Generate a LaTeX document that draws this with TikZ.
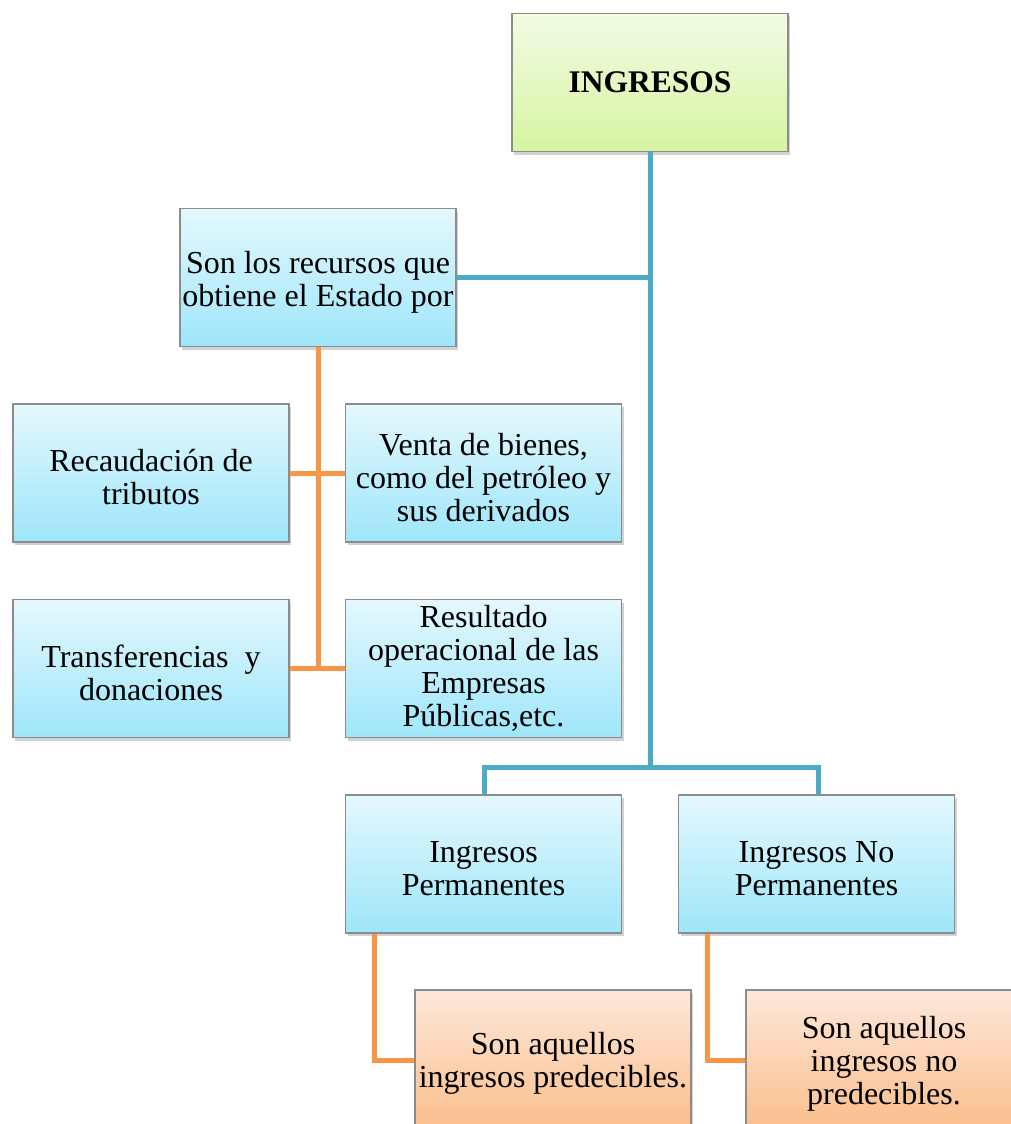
\documentclass[tikz,border=0pt]{standalone}
\usepackage{fontspec}
\setmainfont{Liberation Serif}
\usetikzlibrary{shadows}
\definecolor{bordergray}{RGB}{140,140,140}
\definecolor{blueTop}{RGB}{228,248,253}
\definecolor{blueBot}{RGB}{158,230,250}
\definecolor{greenTop}{RGB}{242,251,228}
\definecolor{greenBot}{RGB}{214,245,162}
\definecolor{orangeTop}{RGB}{253,232,218}
\definecolor{orangeBot}{RGB}{250,190,140}
\definecolor{tealline}{RGB}{75,172,198}
\definecolor{orangeline}{RGB}{247,150,70}
\newcommand{\tallfirst}{\rule{0pt}{31pt}}
\tikzset{
  box/.style={rectangle, draw=bordergray, line width=1.2pt,
    minimum width=276pt, minimum height=138pt, inner sep=2pt,
    align=center, font=\fontsize{32}{33}\selectfont,
    drop shadow={opacity=0.35, shadow xshift=2pt, shadow yshift=-3pt}},
  bluebox/.style={box, top color=blueTop, bottom color=blueBot},
  greenbox/.style={box, top color=greenTop, bottom color=greenBot},
  orangebox/.style={box, top color=orangeTop, bottom color=orangeBot},
  tealconn/.style={draw=tealline, line width=5pt, line join=miter},
  orangeconn/.style={draw=orangeline, line width=5pt, line join=miter},
}
\begin{document}
\begin{tikzpicture}[x=1pt,y=-1pt]
\clip (0,0) rectangle (1011,1124);
\fill[white] (0,0) rectangle (1011,1124);
\coordinate (j) at (650,767);
\coordinate (jl) at (484,767);
\coordinate (jr) at (818,767);
\coordinate (ob1) at (374,1060);
\coordinate (ob2) at (707,1060);
% nodes
\node[greenbox, font=\fontsize{31.5}{33}\selectfont\bfseries] (top) at (650,82.5) {INGRESOS};
\node[bluebox] (src) at (318,277.5) {\tallfirst Son los recursos que\\obtiene el Estado por};
\node[bluebox] (rec) at (151,473) {\tallfirst Recaudación de\\tributos};
\node[bluebox] (venta) at (483.5,473) {\tallfirst Venta de bienes,\\como del petróleo y\\sus derivados};
\node[bluebox] (trans) at (151,668.5) {\tallfirst Transferencias\ \ y\\donaciones};
\node[bluebox] (res) at (483.5,668.5) {Resultado\\operacional de las\\Empresas\\Públicas,etc.};
\node[bluebox] (perm) at (483.5,864) {\tallfirst Ingresos\\Permanentes};
\node[bluebox] (noperm) at (816.5,864) {\tallfirst Ingresos No\\Permanentes};
\node[orangebox] (o1) at (553,1059) {\tallfirst Son aquellos\\ingresos predecibles.};
\node[orangebox] (o2) at (884,1059) {\tallfirst Son aquellos\\ingresos no\\predecibles.};
% teal connectors
\path[tealconn] (top.south) -- (j);
\path[tealconn] (src.east) -- (src.east -| top.south);
\path[tealconn] (perm.north -| jl) -- (jl) -- (jr) -- (noperm.north -| jr);
% orange connectors
\path[orangeconn] (src.south) -- (src.south |- trans.east);
\path[orangeconn] (rec.east) -- (venta.west);
\path[orangeconn] (trans.east) -- (res.west);
\path[orangeconn] (perm.south -| ob1) -- (ob1) -- (o1.west |- ob1);
\path[orangeconn] (noperm.south -| ob2) -- (ob2) -- (o2.west |- ob2);
\end{tikzpicture}
\end{document}
